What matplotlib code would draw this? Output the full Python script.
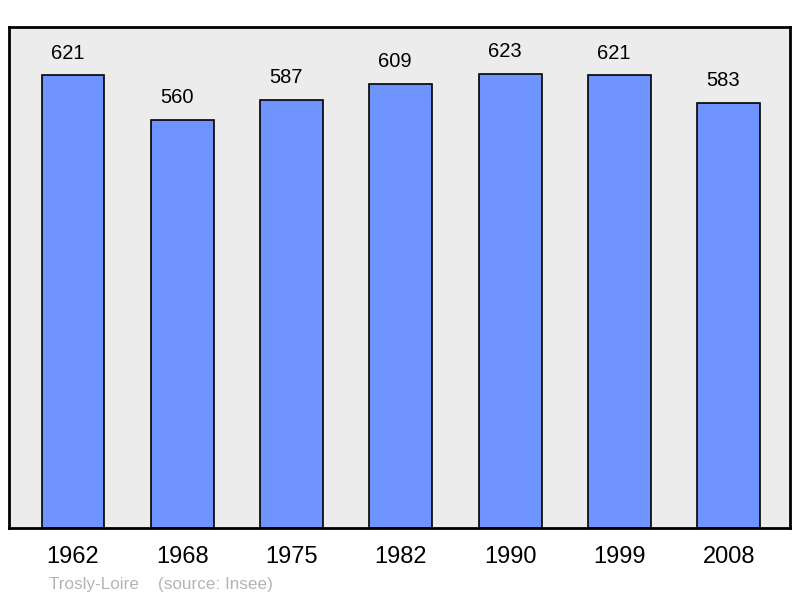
import matplotlib
matplotlib.use("Agg")
import matplotlib.pyplot as plt

years = ["1962", "1968", "1975", "1982", "1990", "1999", "2008"]
population = [621, 560, 587, 609, 623, 621, 583]

plt.rcParams['font.family'] = ['Liberation Sans', 'DejaVu Sans']

fig = plt.figure(figsize=(8, 5.98), dpi=100)
ax = fig.add_axes([9 / 800, 70 / 598, 781 / 800, 501 / 598])
ax.set_facecolor('#ececec')

x = list(range(len(years)))
ax.bar(x, population, width=0.575, color='#7094ff', edgecolor='black',
       linewidth=1.2, zorder=2)

# value labels sit a little left of the bar centres in the original
for xi, v in zip(x, population):
    ax.annotate(str(v), (xi, v), xytext=(-4, 9), textcoords='offset points',
                ha='center', va='bottom', fontsize=14.5)

ax.set_xlim(-0.585, 6.56)
ax.set_ylim(0, 687)
ax.set_xticks(x)
ax.set_xticklabels(years, fontsize=17)
ax.tick_params(axis='x', length=0, pad=13)
ax.set_yticks([])
for s in ax.spines.values():
    s.set_linewidth(2)

fig.text(49 / 800, 1 - 585 / 598, "Trosly-Loire    (source: Insee)",
         color='#b4b4b4', fontsize=12.3, va='center', ha='left')

fig.savefig("out.png", dpi=100)
